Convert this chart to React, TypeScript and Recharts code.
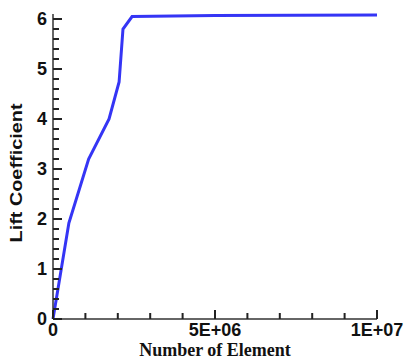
import { LineChart, Line, XAxis, YAxis } from 'recharts';

const elements = [0, 490000, 1100000, 1730000, 2040000, 2160000, 2440000, 5000000, 10000000];
const lift = [0, 1.92, 3.2, 4.0, 4.74, 5.8, 6.05, 6.07, 6.08];

const xTicks = [0, 1e6, 2e6, 3e6, 4e6, 5e6, 6e6, 7e6, 8e6, 9e6, 1e7];
const xLabels: Record<number, string> = { 0: '0', 5000000: '5E+06', 10000000: '1E+07' };
const yTicks = Array.from({ length: 31 }, (_, i) => Math.round(i * 2) / 10);
const yLabels = [0, 1, 2, 3, 4, 5, 6];

const data = elements.map((e, i) => ({ elements: e, lift: lift[i] }));

const tickFont = { fontFamily: '"Liberation Sans", Arial, sans-serif', fontWeight: 700, fontSize: 18 };

function YTick(props: any) {
  const x = Number(props.x);
  const y = Number(props.y);
  const value = props.payload.value;
  const major = yLabels.includes(value);
  return (
    <g>
      <rect x={x} y={y - 1} width={major ? 9 : 6} height={2} fill="#222" />
      {major && (
        <text x={x - 6} y={y} textAnchor="end" dominantBaseline="central" fill="#111" style={tickFont}>
          {value}
        </text>
      )}
    </g>
  );
}

function XTick(props: any) {
  const x = Number(props.x);
  const y = Number(props.y);
  const label = xLabels[props.payload.value];
  const len = label ? 9 : 6;
  return (
    <g>
      <rect x={x - 1} y={y - len} width={2} height={len} fill="#222" />
      {label && (
        <text x={x} y={y + 17} textAnchor="middle" fill="#111" style={tickFont}>
          {label}
        </text>
      )}
    </g>
  );
}

export default function App() {
  return (
    <div style={{ position: 'absolute', left: 0, top: 0, width: 404, height: 359, background: '#fff' }}>
      <LineChart width={404} height={359} data={data} margin={{ top: 14, right: 27, left: 0, bottom: 0 }}>
        <XAxis
          dataKey="elements"
          type="number"
          domain={[0, 10000000]}
          ticks={xTicks}
          interval={0}
          tickSize={0}
          tickMargin={0}
          tickLine={false}
          tick={<XTick />}
          height={40}
          axisLine={{ stroke: '#333', strokeWidth: 1.5 }}
        />
        <YAxis
          type="number"
          domain={[0, 6.1]}
          ticks={yTicks}
          interval={0}
          tickSize={0}
          tickMargin={0}
          tickLine={false}
          tick={<YTick />}
          width={53}
          axisLine={{ stroke: '#333', strokeWidth: 1.5 }}
        />
        <Line
          dataKey="lift"
          type="linear"
          stroke="#3535f5"
          strokeWidth={3}
          dot={false}
          isAnimationActive={false}
        />
      </LineChart>
      {/* axis titles in an overlay svg */}
      <svg width={404} height={359} style={{ position: 'absolute', left: 0, top: 0, pointerEvents: 'none' }}>
        <text
          x={16}
          y={173}
          transform="rotate(-90 16 173)"
          textAnchor="middle"
          dominantBaseline="central"
          fill="#111"
          textLength={139}
          lengthAdjust="spacingAndGlyphs"
          style={{ fontFamily: '"Liberation Sans", Arial, sans-serif', fontWeight: 700, fontSize: 17 }}
        >
          Lift Coefficient
        </text>
        <text
          x={215}
          y={356}
          textAnchor="middle"
          fill="#111"
          style={{ fontFamily: '"Liberation Serif", "Times New Roman", serif', fontWeight: 700, fontSize: 18 }}
        >
          Number of Element
        </text>
      </svg>
    </div>
  );
}
